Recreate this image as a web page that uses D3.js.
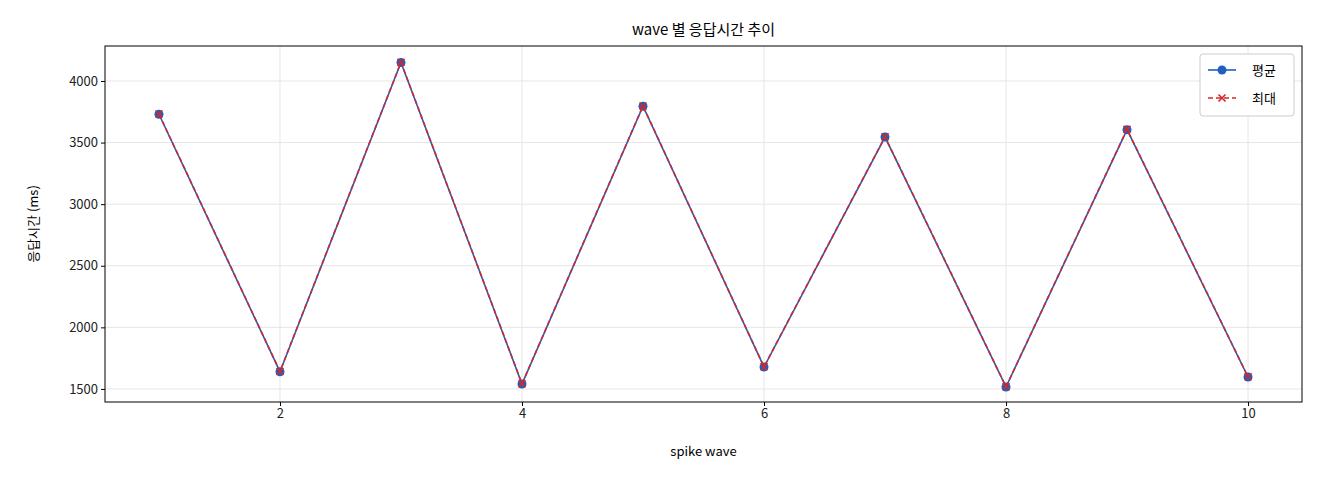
<!DOCTYPE html>
<html><head><meta charset="utf-8">
<script src="https://cdn.jsdelivr.net/npm/d3@7"></script>
<style>body{margin:0;background:#fff}text{font-family:"Noto Sans CJK KR","DejaVu Sans",sans-serif}</style>
</head><body><svg id="c" width="1320" height="480"></svg>
<script>
const waves=[1,2,3,4,5,6,7,8,9,10];
const avgMs=[3730,1640,4150,1540,3795,1678,3545,1516,3605,1597];
const maxMs=[3732,1642,4152,1542,3797,1680,3547,1518,3607,1599];
const yTicks=[1500,2000,2500,3000,3500,4000];
const xTicks=[2,4,6,8,10];
const svg=d3.select("#c");
const L=105,R=1302,T=46,B=402;
const x=d3.scaleLinear().domain([0.554,10.446]).range([L,R]);
const y=d3.scaleLinear().domain([1394,4284]).range([B,T]);
const g=svg.append("g");
g.selectAll(".gx").data(xTicks).join("line").attr("x1",d=>x(d)).attr("x2",d=>x(d)).attr("y1",T).attr("y2",B).attr("stroke","#e6e6e6");
g.selectAll(".gy").data(yTicks).join("line").attr("y1",d=>y(d)).attr("y2",d=>y(d)).attr("x1",L).attr("x2",R).attr("stroke","#e6e6e6");
svg.append("g").attr("transform",`translate(0,${B})`).call(d3.axisBottom(x).tickValues(xTicks).tickSize(4).tickFormat(d3.format("d"))).call(a=>{a.select(".domain").remove();a.selectAll("text").attr("font-size",13).attr("fill","#222")});
svg.append("g").attr("transform",`translate(${L},0)`).call(d3.axisLeft(y).tickValues(yTicks).tickSize(4).tickFormat(d3.format("d"))).call(a=>{a.select(".domain").remove();a.selectAll("text").attr("font-size",13).attr("fill","#222")});
svg.append("rect").attr("x",L).attr("y",T).attr("width",R-L).attr("height",B-T).attr("fill","none").attr("stroke","#000");
const line=d3.line().x((d,i)=>x(waves[i])).y(d=>y(d));
svg.append("path").datum(avgMs).attr("d",line).attr("fill","none").attr("stroke","#1f5fbf").attr("stroke-width",1.6);
svg.selectAll(".pa").data(avgMs).join("circle").attr("cx",(d,i)=>x(waves[i])).attr("cy",d=>y(d)).attr("r",4.5).attr("fill","#1f5fbf");
svg.append("path").datum(maxMs).attr("d",line).attr("fill","none").attr("stroke","#d62728").attr("stroke-width",1.6).attr("stroke-dasharray","5,3");
const cross=(sel,cx,cy)=>{sel.append("path").attr("d",`M${cx-3.5},${cy-3.5}L${cx+3.5},${cy+3.5}M${cx-3.5},${cy+3.5}L${cx+3.5},${cy-3.5}`).attr("stroke","#d62728").attr("stroke-width",1.6)};
maxMs.forEach((d,i)=>cross(svg,x(waves[i]),y(d)));
svg.append("text").attr("x",(L+R)/2).attr("y",35).attr("text-anchor","middle").attr("font-size",15).text("wave 별 응답시간 추이");
svg.append("text").attr("x",(L+R)/2).attr("y",456).attr("text-anchor","middle").attr("font-size",13).text("spike wave");
svg.append("text").attr("transform",`translate(38,${(T+B)/2}) rotate(-90)`).attr("text-anchor","middle").attr("font-size",13).text("응답시간 (ms)");
const lg=svg.append("g").attr("transform","translate(1200,54)");
lg.append("rect").attr("width",94).attr("height",62).attr("rx",3).attr("fill","#fff").attr("stroke","#ccc");
lg.append("line").attr("x1",8).attr("x2",36).attr("y1",16).attr("y2",16).attr("stroke","#1f5fbf").attr("stroke-width",1.6);
lg.append("circle").attr("cx",22).attr("cy",16).attr("r",4.5).attr("fill","#1f5fbf");
lg.append("text").attr("x",52).attr("y",21).attr("font-size",13).text("평균");
lg.append("line").attr("x1",8).attr("x2",36).attr("y1",44).attr("y2",44).attr("stroke","#d62728").attr("stroke-width",1.6).attr("stroke-dasharray","5,3");
cross(lg,22,44);
lg.append("text").attr("x",52).attr("y",49).attr("font-size",13).text("최대");
</script></body></html>
